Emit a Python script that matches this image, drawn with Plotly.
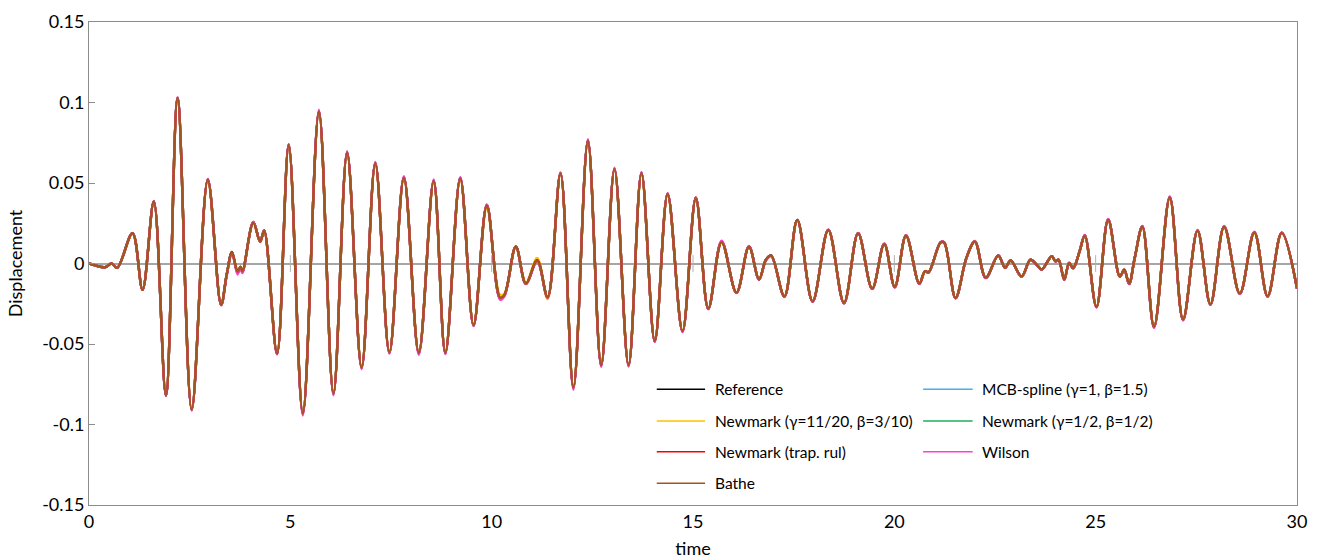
import plotly.graph_objects as go

# Time instants of the turning points of the displacement history (s)
t_pts = [0.00, 0.40, 0.56, 0.70, 1.08, 1.33, 1.61, 1.91, 2.20, 2.55,
         2.95, 3.28, 3.42, 3.55, 3.69, 3.76, 3.81, 4.08, 4.25, 4.35,
         4.67, 4.96, 5.31, 5.71, 6.07, 6.41, 6.77, 7.11, 7.46, 7.82,
         8.19, 8.56, 8.85, 9.22, 9.55, 9.88, 10.21, 10.32, 10.60, 10.85,
         11.13, 11.39, 11.71, 12.03, 12.39, 12.72, 13.05, 13.40, 13.72, 14.05,
         14.37, 14.74, 15.07, 15.38, 15.71, 16.08, 16.39, 16.64, 16.81, 16.94,
         17.27, 17.59, 17.97, 18.36, 18.75, 19.10, 19.45, 19.75, 20.01, 20.29,
         20.62, 20.76, 20.85, 21.15, 21.24, 21.52, 21.79, 22.00, 22.27, 22.58,
         22.75, 22.89, 23.16, 23.38, 23.55, 23.66, 23.91, 24.00, 24.08, 24.22,
         24.34, 24.44, 24.60, 24.73, 25.02, 25.31, 25.60, 25.71, 25.83, 25.97,
         26.16, 26.45, 26.84, 27.17, 27.53, 27.85, 28.19, 28.58, 28.94, 29.27,
         29.62, 30.00]

reference = [0.0, -0.0023, 0.0, -0.0027, 0.0188, -0.0163, 0.0385, -0.082, 0.1029, -0.0909,
             0.0522, -0.0257, -0.007, 0.0072, -0.0055, -0.002, -0.0052, 0.0257, 0.0137, 0.0205,
             -0.0561, 0.0739, -0.0934, 0.0946, -0.081, 0.0691, -0.0648, 0.0625, -0.0555, 0.0536,
             -0.0557, 0.0515, -0.0557, 0.0532, -0.0385, 0.0364, -0.0215, -0.0195, 0.0106, -0.0126,
             0.0025, -0.0209, 0.0561, -0.0772, 0.0764, -0.0634, 0.0588, -0.0634, 0.0563, -0.0484,
             0.0433, -0.0422, 0.0408, -0.0281, 0.0137, -0.0182, 0.0106, -0.0099, 0.0023, 0.005,
             -0.0205, 0.0271, -0.0236, 0.0209, -0.0246, 0.0188, -0.0157, 0.0122, -0.0147, 0.0174,
             -0.0126, -0.0048, -0.0055, 0.0132, 0.013, -0.0215, 0.0035, 0.0137, -0.0089, 0.005,
             -0.0027, 0.0019, -0.0081, 0.0023, -0.0012, -0.0037, 0.0045, 0.0014, 0.0023, -0.0101,
             0.0004, -0.0029, 0.0075, 0.0174, -0.0271, 0.0273, -0.0081, -0.0039, -0.0126, 0.0035,
             0.023, -0.0395, 0.0412, -0.035, 0.0205, -0.0255, 0.023, -0.0188, 0.0195, -0.0205,
             0.0191, -0.0155]

mcb_spline = [0.0, -0.0023, 0.0, -0.0027, 0.0188, -0.0163, 0.0385, -0.082, 0.1028, -0.0908,
              0.0521, -0.0258, -0.0068, 0.0068, -0.0058, -0.0022, -0.005, 0.0255, 0.0136, 0.0204,
              -0.0561, 0.0738, -0.0934, 0.0946, -0.081, 0.069, -0.0648, 0.0625, -0.0555, 0.0535,
              -0.0557, 0.0515, -0.0556, 0.0531, -0.0384, 0.0362, -0.0217, -0.0197, 0.0105, -0.0124,
              0.0018, -0.021, 0.0561, -0.0773, 0.0764, -0.0634, 0.0588, -0.0634, 0.0562, -0.0483,
              0.0432, -0.0422, 0.0407, -0.0281, 0.0134, -0.0181, 0.0104, -0.0099, 0.0022, 0.0049,
              -0.0205, 0.027, -0.0236, 0.0209, -0.0246, 0.0188, -0.0157, 0.0122, -0.0147, 0.0174,
              -0.0126, -0.0048, -0.0055, 0.0132, 0.013, -0.0215, 0.0035, 0.0137, -0.0089, 0.005,
              -0.0027, 0.0019, -0.0081, 0.0023, -0.0012, -0.0037, 0.0045, 0.0014, 0.0023, -0.0101,
              0.0004, -0.0029, 0.0075, 0.0174, -0.0271, 0.0273, -0.0081, -0.0039, -0.0126, 0.0035,
              0.023, -0.0395, 0.0412, -0.035, 0.0205, -0.0255, 0.023, -0.0188, 0.0195, -0.0205,
              0.0191, -0.0155]

newmark_11_20 = [0.0, -0.0023, 0.0, -0.0026, 0.0186, -0.0161, 0.0381, -0.0812, 0.1018, -0.0902,
                 0.0508, -0.0255, -0.0072, 0.006, -0.0035, -0.0025, -0.0042, 0.0248, 0.0133, 0.0198,
                 -0.0553, 0.0728, -0.0925, 0.0935, -0.0801, 0.0681, -0.0638, 0.0613, -0.0546, 0.0524,
                 -0.0548, 0.0503, -0.0545, 0.052, -0.0376, 0.034, -0.0195, -0.0185, 0.0098, -0.0118,
                 0.0035, -0.0222, 0.0552, -0.0763, 0.0755, -0.0626, 0.0578, -0.0625, 0.0553, -0.0476,
                 0.0424, -0.0414, 0.0398, -0.0276, 0.0128, -0.0178, 0.01, -0.0096, 0.002, 0.0047,
                 -0.0203, 0.0265, -0.0232, 0.0205, -0.0241, 0.0184, -0.0154, 0.0119, -0.0144, 0.017,
                 -0.0123, -0.0047, -0.0054, 0.013, 0.0128, -0.0211, 0.0034, 0.0134, -0.0087, 0.0049,
                 -0.0026, 0.0018, -0.0079, 0.0022, -0.0012, -0.0036, 0.0044, 0.0014, 0.0022, -0.0099,
                 0.0004, -0.0028, 0.0073, 0.017, -0.0265, 0.0266, -0.0079, -0.0038, -0.0123, 0.0034,
                 0.0224, -0.0387, 0.0403, -0.0342, 0.0198, -0.0248, 0.0222, -0.0181, 0.0188, -0.0198,
                 0.0184, -0.0151]

newmark_half_half = [0.0, -0.0023, 0.0, -0.0027, 0.0188, -0.0163, 0.0385, -0.082, 0.1028, -0.0909,
                     0.0521, -0.0258, -0.0069, 0.0068, -0.0057, -0.0021, -0.0051, 0.0256, 0.0136, 0.0204,
                     -0.0561, 0.0738, -0.0934, 0.0946, -0.081, 0.069, -0.0648, 0.0625, -0.0555, 0.0535,
                     -0.0557, 0.0515, -0.0556, 0.0531, -0.0384, 0.0362, -0.0218, -0.0197, 0.0105, -0.0125,
                     0.0019, -0.021, 0.0561, -0.0773, 0.0764, -0.0634, 0.0588, -0.0634, 0.0562, -0.0483,
                     0.0432, -0.0422, 0.0407, -0.0281, 0.0135, -0.0181, 0.0105, -0.0099, 0.0022, 0.0049,
                     -0.0205, 0.027, -0.0236, 0.0209, -0.0246, 0.0188, -0.0157, 0.0122, -0.0147, 0.0174,
                     -0.0126, -0.0048, -0.0055, 0.0132, 0.013, -0.0215, 0.0035, 0.0137, -0.0089, 0.005,
                     -0.0027, 0.0019, -0.0081, 0.0023, -0.0012, -0.0037, 0.0045, 0.0014, 0.0023, -0.0101,
                     0.0004, -0.0029, 0.0075, 0.0174, -0.0271, 0.0273, -0.0081, -0.0039, -0.0126, 0.0035,
                     0.023, -0.0395, 0.0412, -0.035, 0.0205, -0.0255, 0.023, -0.0188, 0.0195, -0.0205,
                     0.0191, -0.0155]

newmark_trap = [0.0, -0.0023, 0.0, -0.0027, 0.0188, -0.0163, 0.0385, -0.082, 0.1029, -0.0909,
                0.0522, -0.0257, -0.0069, 0.0069, -0.0056, -0.0021, -0.0051, 0.0256, 0.0137, 0.0205,
                -0.0561, 0.0739, -0.0934, 0.0946, -0.081, 0.0691, -0.0648, 0.0625, -0.0555, 0.0536,
                -0.0557, 0.0515, -0.0557, 0.0532, -0.0385, 0.0363, -0.0217, -0.0196, 0.0105, -0.0125,
                0.002, -0.021, 0.0561, -0.0772, 0.0764, -0.0634, 0.0588, -0.0634, 0.0563, -0.0484,
                0.0433, -0.0422, 0.0408, -0.0281, 0.0135, -0.0182, 0.0105, -0.0099, 0.0023, 0.005,
                -0.0205, 0.0271, -0.0236, 0.0209, -0.0246, 0.0188, -0.0157, 0.0122, -0.0147, 0.0174,
                -0.0126, -0.0048, -0.0055, 0.0132, 0.013, -0.0215, 0.0035, 0.0137, -0.0089, 0.005,
                -0.0027, 0.0019, -0.0081, 0.0023, -0.0012, -0.0037, 0.0045, 0.0014, 0.0023, -0.0101,
                0.0004, -0.0029, 0.0075, 0.0174, -0.0271, 0.0273, -0.0081, -0.0039, -0.0126, 0.0035,
                0.023, -0.0395, 0.0412, -0.035, 0.0205, -0.0255, 0.023, -0.0188, 0.0195, -0.0205,
                0.0191, -0.0155]

wilson = [0.0, -0.0023, 0.0, -0.0027, 0.0189, -0.0164, 0.0387, -0.0824, 0.1033, -0.0914,
          0.0525, -0.026, -0.0075, 0.0062, -0.0068, -0.0028, -0.006, 0.026, 0.0134, 0.0203,
          -0.0565, 0.0743, -0.0945, 0.0955, -0.0818, 0.0697, -0.0655, 0.0631, -0.056, 0.0542,
          -0.0567, 0.0522, -0.0563, 0.0536, -0.0389, 0.0366, -0.0225, -0.0203, 0.0103, -0.0128,
          0.001, -0.0213, 0.0566, -0.0785, 0.0772, -0.0641, 0.0595, -0.064, 0.0568, -0.0488,
          0.0437, -0.0426, 0.0411, -0.0284, 0.0141, -0.0184, 0.0109, -0.0101, 0.0018, 0.0045,
          -0.0208, 0.0268, -0.0238, 0.0211, -0.0249, 0.019, -0.0159, 0.0124, -0.0149, 0.0176,
          -0.0128, -0.005, -0.0057, 0.0134, 0.0132, -0.0217, 0.0034, 0.014, -0.0091, 0.0051,
          -0.0028, 0.0018, -0.0083, 0.0023, -0.0013, -0.0038, 0.0046, 0.0013, 0.0024, -0.0103,
          0.0003, -0.0031, 0.0076, 0.0177, -0.0274, 0.0276, -0.0082, -0.004, -0.0129, 0.0034,
          0.0233, -0.04, 0.0416, -0.0354, 0.0208, -0.0258, 0.0233, -0.019, 0.0198, -0.0207,
          0.0193, -0.0156]

bathe = [0.0, -0.0023, 0.0, -0.0027, 0.0188, -0.0163, 0.0385, -0.082, 0.1027, -0.0908,
         0.052, -0.0257, -0.0069, 0.0066, -0.0052, -0.0022, -0.0049, 0.0254, 0.0136, 0.0203,
         -0.056, 0.0736, -0.0932, 0.0944, -0.0808, 0.0689, -0.0646, 0.0623, -0.0553, 0.0533,
         -0.0555, 0.0513, -0.0554, 0.0529, -0.0383, 0.0359, -0.0212, -0.0194, 0.0104, -0.0124,
         0.0018, -0.0211, 0.056, -0.0771, 0.0762, -0.0632, 0.0586, -0.0632, 0.0561, -0.0482,
         0.0431, -0.042, 0.0406, -0.028, 0.0133, -0.0181, 0.0104, -0.0099, 0.0022, 0.0049,
         -0.0204, 0.027, -0.0235, 0.0208, -0.0245, 0.0187, -0.0156, 0.0121, -0.0146, 0.0173,
         -0.0125, -0.0048, -0.0055, 0.0131, 0.0129, -0.0214, 0.0035, 0.0136, -0.0088, 0.005,
         -0.0027, 0.0019, -0.008, 0.0023, -0.0012, -0.0037, 0.0045, 0.0014, 0.0023, -0.01,
         0.0004, -0.0029, 0.0074, 0.0173, -0.027, 0.0271, -0.008, -0.0039, -0.0125, 0.0035,
         0.0228, -0.0393, 0.041, -0.0348, 0.0203, -0.0253, 0.0228, -0.0186, 0.0193, -0.0203,
         0.019, -0.0154]

series_names = ["Reference", "MCB-spline (γ=1, β=1.5)", "Newmark (γ=11/20, β=3/10)",
                "Newmark (γ=1/2, β=1/2)", "Newmark (trap. rul)", "Wilson", "Bathe"]
series_values = [reference, mcb_spline, newmark_11_20, newmark_half_half,
                 newmark_trap, wilson, bathe]
series_colors = ["#000000", "#3DB4E5", "#FFC000", "#1FAE5B", "#FF0000", "#FF3FD0", "#A0561E"]

x_ticks = [0, 5, 10, 15, 20, 25, 30]
y_ticks = [0.15, 0.1, 0.05, 0, -0.05, -0.1, -0.15]
y_tick_text = ["0.15", "0.1", "0.05", "0", "-0.05", "-0.1", "-0.15"]
zero_line_marks = [5, 10, 15, 20, 25]

FONT = "Lato"
AXIS_GREY = "#8C8C8C"

fig = go.Figure()

for name, vals, col in zip(series_names, series_values, series_colors):
    fig.add_trace(go.Scatter(
        x=t_pts, y=vals, name=name, mode="lines",
        line=dict(color=col, width=2.4, shape="spline", smoothing=1.0),
        hoverinfo="skip", showlegend=False,
    ))

# small tick marks sitting on the zero line
fig.add_trace(go.Scatter(
    x=zero_line_marks, y=[0] * len(zero_line_marks), mode="markers",
    marker=dict(symbol="line-ns", size=12, line=dict(width=1, color="#B0B0B0")),
    hoverinfo="skip", showlegend=False,
))

# two-column legend drawn in paper coordinates
legend_cols = [0, 1, 0, 1, 0, 1, 0]
legend_rows = [0, 0, 1, 1, 2, 2, 3]
col_x = [(0.470, 0.510, 0.5165), (0.6905, 0.7315, 0.7375)]
row_y = [0.2395, 0.1739, 0.1104, 0.0449]
shapes = []
annotations = []
for name, col, c, r in zip(series_names, series_colors, legend_cols, legend_rows):
    x0, x1, xt = col_x[c]
    y = row_y[r]
    shapes.append(dict(type="line", xref="paper", yref="paper", x0=x0, x1=x1, y0=y, y1=y,
                       line=dict(color=col, width=1.6)))
    annotations.append(dict(xref="paper", yref="paper", x=xt, y=y, text=name, showarrow=False,
                            xanchor="left", yanchor="middle",
                            font=dict(family=FONT, size=15.5, color="#000000")))

fig.update_layout(
    width=1317, height=559,
    margin=dict(l=89, r=20, t=22, b=54),
    paper_bgcolor="white", plot_bgcolor="white",
    font=dict(family=FONT, size=18, color="#000000"),
    shapes=shapes, annotations=annotations,
    showlegend=False,
)

fig.update_xaxes(
    range=[0, 30], tickvals=x_ticks, ticks="", showgrid=False, zeroline=False,
    showline=True, linecolor=AXIS_GREY, linewidth=1, mirror=True, automargin=False,
    tickfont=dict(family=FONT, size=18),
    title=dict(text="time", font=dict(family=FONT, size=18), standoff=12),
)
fig.update_yaxes(
    range=[-0.15, 0.15], tickvals=y_ticks, ticktext=y_tick_text,
    ticks="inside", ticklen=6, tickcolor=AXIS_GREY, showgrid=False,
    zeroline=True, zerolinecolor="#A6A6A6", zerolinewidth=1.5,
    showline=True, linecolor=AXIS_GREY, linewidth=1, mirror=True, automargin=False,
    tickfont=dict(family=FONT, size=18),
    title=dict(text="Displacement", font=dict(family=FONT, size=18), standoff=14),
)

fig.write_html("out.html")
